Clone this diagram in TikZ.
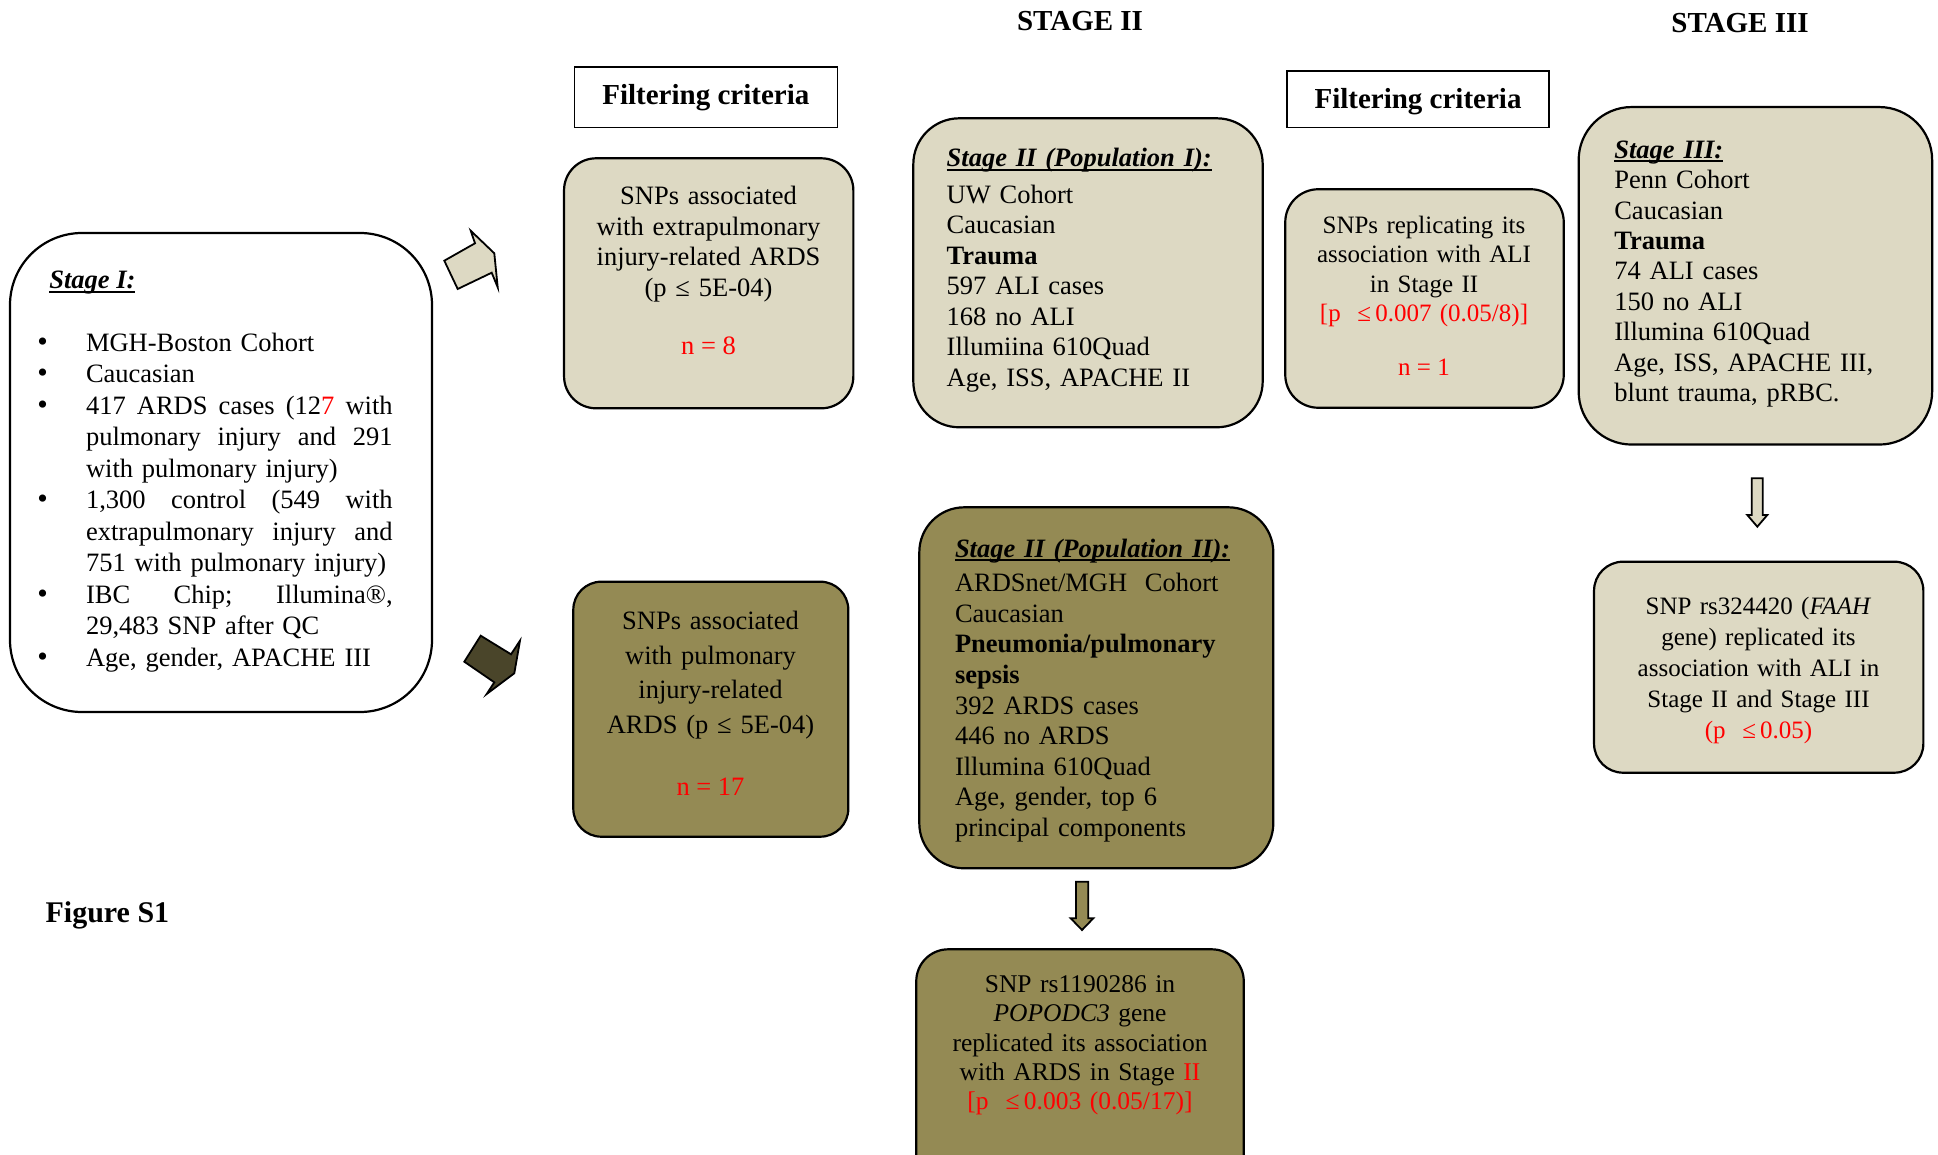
\documentclass[tikz,border=0pt]{standalone}
\usepackage{fontspec}
\setmainfont{Liberation Serif}
\definecolor{lightTan}{HTML}{DDD9C3}
\definecolor{darkTan}{HTML}{948A54}
\definecolor{arrowDark}{HTML}{4A452A}
\definecolor{pureRed}{HTML}{FF0000}
\newsavebox\myulbox
\newcommand{\myul}[2][-4pt]{\sbox\myulbox{#2}\rlap{\rule[#1]{\wd\myulbox}{2pt}}\usebox\myulbox}
\newcommand{\setfs}[2]{\fontsize{#1}{#2}\selectfont}
\newcommand{\bul}{\leavevmode\llap{\makebox[0pt]{\setfs{30}{31}\textbullet}\hspace{43.3pt}}}
\newcommand{\jl}[1]{\leavevmode\hbox to 306.7pt{#1}}
\newcommand{\rd}[1]{\textcolor{pureRed}{#1}}
\begin{document}
\begin{tikzpicture}[x=1pt,y=-1pt,
  box/.style={draw=black, line width=2.2pt, inner sep=0pt, outer sep=0pt},
  filterbox/.style={draw=black, line width=1.6pt, inner sep=0pt, outer sep=0pt, fill=white},
  txt/.style={inner sep=0pt, outer sep=0pt},
  blockarrow/.style={draw=black, line width=1.8pt, line join=miter}]
\useasboundingbox (0,0) rectangle (1938,1155);
\fill[white] (0,0) rectangle (1938,1155);
\clip (0,0) rectangle (1938,1155);

% headers
\node[txt, anchor=base, font=\setfs{29}{33}\bfseries] (hdrII) at (1080,31) {STAGE II};
\node[txt, anchor=base, font=\setfs{29}{33}\bfseries] (hdrIII) at (1740,33) {STAGE III};
\node[txt, anchor=base west, font=\setfs{30}{34}\bfseries] (figlabel) at (45.6,922) {Figure S1};

% Stage I
\node[box, fill=white, minimum width=422, minimum height=479, rounded corners=72] (s1box) at (221,472.5) {};
\node[txt, anchor=base west, font=\setfs{26.5}{31.5}] (s1title) at (49.3,288.3) {\myul[-4.5pt]{\bfseries\itshape Stage I:}};
\node[txt, anchor=base west, text width=307, align=left, font=\setfs{26.5}{31.5}] (s1text) at (86,351.5) {%
\bul MGH-Boston Cohort\\
\bul Caucasian\\
\bul\jl{417\hfill ARDS\hfill cases\hfill (12\rd{7}\hfill with}\\
\jl{pulmonary\hfill injury\hfill and\hfill 291}\\
with pulmonary injury)\\
\bul\jl{1,300\hfill control\hfill (549\hfill with}\\
\jl{extrapulmonary\hfill injury\hfill and}\\
751 with pulmonary injury)\\
\bul\jl{IBC\hfill Chip;\hfill Illumina®,}\\
29,483 SNP after QC\\
\bul Age, gender, APACHE III};

% block arrows out of Stage I
\draw[blockarrow, fill=lightTan] (444.3,260.7) -- (475,243.3) -- (470.7,230.7) -- (494.3,253.3) -- (497.7,287.3) -- (491.7,272.7) -- (457.7,289) -- cycle;
\draw[blockarrow, fill=arrowDark] (464.3,661.7) -- (480.7,635.7) -- (511,654.3) -- (520,640.7) -- (514.3,673.3) -- (486.7,694) -- (494.3,682.3) -- cycle;

% Filtering criteria boxes
\node[filterbox, minimum width=263, minimum height=60.4] (filt1) at (705.8,97.5) {};
\node[txt, anchor=base, font=\setfs{29}{33}\bfseries] (filt1txt) at (705.8,105) {Filtering criteria};
\node[filterbox, minimum width=262, minimum height=56.7] (filt2) at (1418,99.3) {};
\node[txt, anchor=base, font=\setfs{29}{33}\bfseries] (filt2txt) at (1418,108.3) {Filtering criteria};

% SNPs extrapulmonary
\node[box, fill=lightTan, minimum width=289.3, minimum height=250, rounded corners=32] (snp1) at (708.7,283.3) {};
\node[txt, anchor=base, text width=289, align=center, font=\setfs{26.5}{30.5}] (snp1txt) at (708.5,205) {SNPs associated\\with extrapulmonary\\injury-related ARDS\\(p ≤ 5E-04)};
\node[txt, anchor=base, font=\setfs{26.5}{30.5}, text=pureRed] (snp1n) at (708.5,355) {n = 8};

% SNPs pulmonary
\node[box, fill=darkTan, minimum width=275, minimum height=255, rounded corners=28] (snp2) at (710.8,709.2) {};
\node[txt, anchor=base, text width=275, align=center, font=\setfs{26.5}{34.7}] (snp2txt) at (710.5,629.3) {SNPs associated\\with pulmonary\\injury-related\\ARDS (p ≤ 5E-04)};
\node[txt, anchor=base, font=\setfs{26.5}{30.5}, text=pureRed] (snp2n) at (710.5,795) {n = 17};

% Stage II population I
\node[box, fill=lightTan, minimum width=349.4, minimum height=309, rounded corners=46] (pop1) at (1088,272.8) {};
\node[txt, anchor=base west, text width=310, align=left, font=\setfs{26.5}{30.5}] (pop1txt) at (946.7,167) {%
\myul{\bfseries\itshape Stage II (Population I):}\\[6pt]
UW Cohort\\
Caucasian\\
\textbf{Trauma}\\
597 ALI cases\\
168 no ALI\\
Illumiina 610Quad\\
Age, ISS, APACHE II};

% Stage II population II
\node[box, fill=darkTan, minimum width=354, minimum height=361, rounded corners=45] (pop2) at (1096.3,687.8) {};
\node[txt, anchor=base west, text width=310, align=left, font=\setfs{26.5}{30.6}] (pop2txt) at (955,557) {%
\myul{\bfseries\itshape Stage II (Population II):}\\[4pt]
ARDSnet/MGH\ \ Cohort\\
Caucasian\\
\textbf{Pneumonia/pulmonary}\\
\textbf{sepsis}\\
392 ARDS cases\\
446 no ARDS\\
Illumina 610Quad\\
Age, gender, top 6\\
principal components};

% down arrow pop II -> result
\draw[blockarrow, fill=darkTan] (1076,881.7) -- (1088.3,881.7) -- (1088.3,918.3) -- (1093.3,918.3) -- (1082,930) -- (1070.7,918.3) -- (1076,918.3) -- cycle;

% POPDC3 result box
\node[box, fill=darkTan, minimum width=327.5, minimum height=281, rounded corners=32] (res2) at (1080,1089.8) {};
\node[txt, anchor=base, text width=327, align=center, font=\setfs{25.5}{29.2}] (res2txt) at (1080,992.7) {%
SNP rs1190286 in\\
\textit{POPODC3} gene\\
replicated its association\\
with ARDS in Stage \rd{II}\\
\rd{[p \ ≤\,0.003 (0.05/17)]}};

% SNPs replicating
\node[box, fill=lightTan, minimum width=278.5, minimum height=218.5, rounded corners=33] (repl) at (1424.5,298.5) {};
\node[txt, anchor=base, text width=278, align=center, font=\setfs{25}{29.5}] (repltxt) at (1424,233.3) {%
SNPs replicating its\\
association with ALI\\
in Stage II\\
\rd{[p \ ≤\,0.007 (0.05/8)]}};
\node[txt, anchor=base, font=\setfs{25}{29.5}, text=pureRed] (repln) at (1424,376) {n = 1};

% Stage III
\node[box, fill=lightTan, minimum width=353.5, minimum height=337.5, rounded corners=53] (s3box) at (1755.4,275.8) {};
\node[txt, anchor=base west, text width=310, align=left, font=\setfs{26.5}{30.4}] (s3txt) at (1614.3,158.3) {%
\myul{\bfseries\itshape Stage III:}\\
Penn Cohort\\
Caucasian\\
\textbf{Trauma}\\
74 ALI cases\\
150 no ALI\\
Illumina 610Quad\\
Age, ISS, APACHE III,\\
blunt trauma, pRBC.};

% down arrow stage III -> result
\draw[blockarrow, fill=lightTan] (1751.7,478.3) -- (1762.7,478.3) -- (1762.7,515) -- (1767.3,515) -- (1757.3,526.7) -- (1747.3,515) -- (1751.7,515) -- cycle;

% FAAH result
\node[box, fill=lightTan, minimum width=329.3, minimum height=211, rounded corners=29] (res3) at (1758.7,667.2) {};
\node[txt, anchor=base, text width=329, align=center, font=\setfs{25}{31}] (res3txt) at (1758.5,614.5) {%
SNP rs324420 (\textit{FAAH}\\
gene) replicated its\\
association with ALI in\\
Stage II and Stage III\\
\rd{(p \ ≤\,0.05)}};
\end{tikzpicture}
\end{document}
